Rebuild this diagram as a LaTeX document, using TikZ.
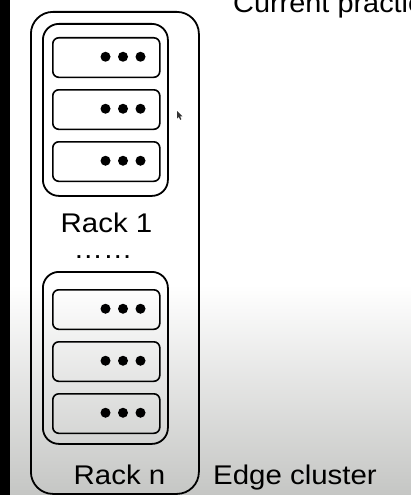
\documentclass[tikz,border=0pt]{standalone}
\usepackage{fontspec}
\setmainfont{Liberation Sans}
\definecolor{bggray}{HTML}{C5C6C4}
\begin{document}
\begin{tikzpicture}[x=1pt,y=-1pt,
  outerbox/.style={draw=black, line width=1.8pt, inner sep=0pt, anchor=north west, rounded corners=22pt, minimum width=168pt, minimum height=482pt},
  rackbox/.style={draw=black, line width=1.8pt, inner sep=0pt, anchor=north west, rounded corners=16pt, minimum width=125pt, minimum height=172pt},
  serverbox/.style={draw=black, line width=1.6pt, inner sep=0pt, anchor=north west, rounded corners=6pt, minimum width=107pt, minimum height=39.5pt},
  lbl/.style={font=\fontsize{27}{30}\selectfont, inner sep=0pt, text=black}]
\useasboundingbox (0,0) rectangle (411,495);
\clip (0,0) rectangle (411,495);
% background
\fill[white] (0,0) rectangle (411,495);
\shade[top color=white, bottom color=bggray] (0,285) rectangle (411,495);
\fill[black] (0,0) rectangle (10,495);

% title (clipped at the right edge)
\node[lbl, anchor=base west] (title) at (233,13) {\scalebox{1.07}[1]{Current practice}};

% edge cluster
\node[outerbox] (cluster) at (30,11) {};

% rack 1
\node[rackbox] (rack1) at (42,23) {};
\foreach \i/\y in {1/37,2/89,3/141} {
  \node[serverbox] (s1\i) at (52,\y) {};
  \foreach \dx in {105.5,123,140.5}
    \fill[black] (\dx,\y+19.75) circle (5pt);
}
\node[lbl, anchor=base] (rack1lbl) at (106.5,232) {\scalebox{1.09}[1]{Rack 1}};
\node[lbl, anchor=base] (ellip) at (103,258) {\scalebox{1.09}[1]{……}};

% rack n
\node[rackbox] (rackn) at (42,271) {};
\foreach \i/\y in {1/289,2/341,3/393} {
  \node[serverbox] (sn\i) at (52,\y) {};
  \foreach \dx in {105.5,123,140.5}
    \fill[black] (\dx,\y+19.75) circle (5pt);
}
\node[lbl, anchor=base] (racknlbl) at (119.5,484) {\scalebox{1.09}[1]{Rack n}};

\node[lbl, anchor=base west] (edgelbl) at (213,484) {\scalebox{1.09}[1]{Edge cluster}};

% mouse pointer
\fill[black!80] (177,111) -- (177,118.5) -- (178.8,116.9) -- (180.2,119.8) -- (181.4,119.2) -- (180,116.4) -- (182.4,116.3) -- cycle;
\end{tikzpicture}
\end{document}
